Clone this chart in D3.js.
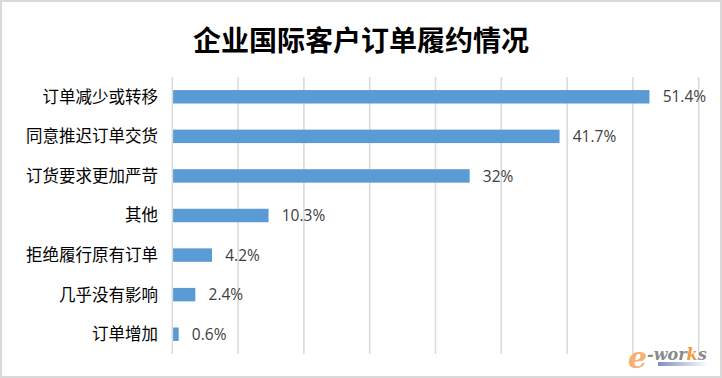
<!DOCTYPE html>
<html><head><meta charset="utf-8">
<script src="https://cdn.jsdelivr.net/npm/d3@7"></script>
<style>html,body{margin:0;padding:0;background:#fff;}svg{display:block;}</style>
</head><body>
<svg id="c" width="722" height="378"></svg>
<script>
const title = "企业国际客户订单履约情况";
const categories = ["订单减少或转移","同意推迟订单交货","订货要求更加严苛","其他","拒绝履行原有订单","几乎没有影响","订单增加"];
const values = [51.4, 41.7, 32, 10.3, 4.2, 2.4, 0.6];
const valueLabels = ["51.4%","41.7%","32%","10.3%","4.2%","2.4%","0.6%"];
const gridTicks = [0, 7.1, 14.2, 21.3, 28.4, 35.5, 42.6, 49.7, 56.8];

const svg = d3.select("#c");
const W = 722, H = 378;
svg.append("rect").attr("x",1).attr("y",1).attr("width",W-2).attr("height",H-2)
  .attr("fill","#fff").attr("stroke","#d9d9d9").attr("stroke-width",2);

svg.append("text").attr("x",361).attr("y",51).attr("text-anchor","middle")
  .attr("font-family","'Noto Sans CJK SC'").attr("font-weight","bold")
  .attr("font-size",28).attr("fill","#000").text(title);

const pLeft = 172.3, pRight = 698.7, pTop = 77, pBottom = 354;
const x = d3.scaleLinear().domain([0, 56.8]).range([pLeft, pRight]);
const y = d3.scaleBand().domain(categories).range([pTop, pBottom]).paddingInner(0.66).paddingOuter(0.33);

svg.append("g").selectAll("line").data(gridTicks).join("line")
  .attr("x1",d=>x(d)).attr("x2",d=>x(d)).attr("y1",pTop).attr("y2",pBottom)
  .attr("stroke","#d9d9d9").attr("stroke-width",1.5);

svg.append("g").selectAll("rect").data(values).join("rect")
  .attr("x",x(0)+0.8).attr("y",(d,i)=>y(categories[i]))
  .attr("width",d=>x(d)-x(0)).attr("height",y.bandwidth())
  .attr("fill","#5b9bd5");

svg.append("g").selectAll("text").data(categories).join("text")
  .attr("x",158).attr("y",d=>y(d)+y.bandwidth()/2).attr("dy","0.36em")
  .attr("text-anchor","end").attr("font-family","'Noto Sans CJK SC'")
  .attr("font-size",16.5).attr("fill","#000").text(d=>d);

svg.append("g").selectAll("text").data(values).join("text")
  .attr("x",d=>x(d)+14).attr("y",(d,i)=>y(categories[i])+y.bandwidth()/2).attr("dy","0.36em")
  .attr("font-family","'Open Sans', 'Liberation Sans'")
  .attr("font-size",15.5).attr("fill","#404040").text((d,i)=>valueLabels[i]);

// watermark
const wm = svg.append("g").attr("transform","translate(628,368)");
const grad = svg.append("defs").append("linearGradient").attr("id","wg");
grad.append("stop").attr("offset","0").attr("stop-color","#7f8fc0");
grad.append("stop").attr("offset","1").attr("stop-color","#ffffff");
wm.append("rect").attr("x",30).attr("y",-6).attr("width",50).attr("height",4).attr("fill","url(#wg)");
const t = wm.append("text").attr("font-family","'DejaVu Serif'").attr("font-style","italic").attr("font-weight","bold");
t.append("tspan").attr("font-size",30).attr("fill","#f5a45a").attr("opacity",0.85).text("e");
t.append("tspan").attr("font-size",16).attr("dy",-8).attr("fill","#8a8a8a").text("-wor");
t.append("tspan").attr("font-size",16).attr("fill","#f39a3c").text("k");
t.append("tspan").attr("font-size",16).attr("fill","#8a8a8a").text("s");
</script>
</body></html>
